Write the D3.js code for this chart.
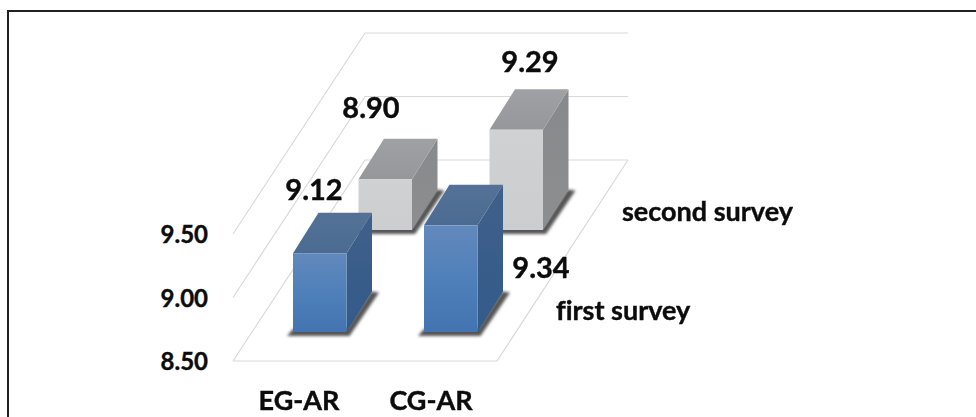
<!DOCTYPE html>
<html>
<head>
<meta charset="utf-8">
<script src="https://cdn.jsdelivr.net/npm/d3@7"></script>
<style>
  html, body { margin: 0; padding: 0; background: #fff; }
  svg { display: block; }
  text { font-family: Lato, "Open Sans", sans-serif; font-weight: 700; fill: #0c0c0c;
         stroke: #0c0c0c; stroke-width: 0.4; font-variant-ligatures: none; }
</style>
</head>
<body>
<svg id="chart" width="976" height="417"></svg>
<script>
// Survey scores by group, drawn as a 3-D column chart
const categories = ["EG-AR", "CG-AR"];
const seriesNames = ["first survey", "second survey"];
const firstSurvey = [9.12, 9.34];
const secondSurvey = [8.90, 9.29];
const valueTicks = [8.5, 9.0, 9.5];

const width = 976, height = 417;
const svg = d3.select("#chart");

// Rise above the floor for a value
const rise = d3.scaleLinear().domain([8.5, 9.5]).range([0, 127]);
// Left edge of a column's front face along the front row
const xCat = d3.scalePoint().domain(categories).range([293, 424]);
// Row placement on the floor: the back row sits up and to the right
const rowX = d3.scalePoint().domain(seriesNames).range([0, 65.5]);
const rowBase = d3.scalePoint().domain(seriesNames).range([332, 230]);

const barW = 53.5;
const capDx = 25.5, capDy = 40.5;

const defs = svg.append("defs");
function gradient(id, stops) {
  const g = defs.append("linearGradient").attr("id", id)
    .attr("x1", 0).attr("y1", 0).attr("x2", 0).attr("y2", 1);
  stops.forEach(([o, c]) => g.append("stop").attr("offset", o).attr("stop-color", c));
}
gradient("blueFront", [[0, "#6289bc"], [0.5, "#4f80b9"], [1, "#4274b1"]]);
gradient("blueSide", [[0, "#3f6089"], [1, "#325a8a"]]);
gradient("blueTop", [[0, "#537196"], [1, "#4d6b92"]]);
gradient("greyFront", [[0, "#d0d1d3"], [1, "#cccdcf"]]);
gradient("greySide", [[0, "#88898c"], [1, "#8d8e90"]]);
gradient("greyTop", [[0, "#a0a1a4"], [1, "#96979a"]]);
defs.append("filter").attr("id", "soft").attr("x", "-30%").attr("y", "-30%").attr("width", "160%").attr("height", "160%")
  .append("feGaussianBlur").attr("stdDeviation", 1.5);
defs.append("filter").attr("id", "tiny")
  .append("feGaussianBlur").attr("stdDeviation", 0.3);

// Frame: only the top and left edges are ruled
svg.append("path")
  .attr("d", `M8 ${height}V11H${width}`)
  .attr("fill", "none").attr("stroke", "#231f20").attr("stroke-width", 2);

// Walls and floor
const frontY = 361, backY = 160;
const front = { x: 233, xr: 497 };
const back = { x: 365, xr: 628 };
const grid = svg.append("g").attr("fill", "none").attr("stroke", "#d9d9d9").attr("stroke-width", 1.2);
valueTicks.forEach(v => {
  const r = rise(v);
  grid.append("path").attr("d", d3.line()([
    [front.x, frontY - r], [back.x, backY - r], [back.xr, backY - r]
  ]));
});
grid.append("path").attr("d", d3.line()([
  [front.x, frontY], [front.xr, frontY], [back.xr, backY]
]));

// Value axis labels
svg.append("g").selectAll("text").data(valueTicks).join("text")
  .attr("x", 208).attr("y", d => frontY + 9 - rise(d))
  .attr("text-anchor", "end").attr("font-size", 24)
  .text(d => d.toFixed(2));

// One column: shadow, front, side and top faces
function column(g, x, base, value, pal) {
  const h = rise(value);
  const y = base - h;
  g.append("path").attr("filter", "url(#soft)").attr("fill", "#555555")
    .attr("d", d3.line()([
      [x - 6, base + 4], [x + barW + 3, base + 4],
      [x + barW + capDx + 7, base - capDy + 1], [x + barW + capDx - 1, base - capDy],
      [x + barW, base - 3], [x, base - 3]
    ]));
  g.append("path").attr("fill", `url(#${pal}Side)`)
    .attr("d", d3.line()([
      [x + barW, y], [x + barW + capDx, y - capDy],
      [x + barW + capDx, base - capDy], [x + barW, base]
    ]));
  g.append("path").attr("fill", `url(#${pal}Top)`)
    .attr("d", d3.line()([
      [x, y], [x + capDx, y - capDy], [x + barW + capDx, y - capDy], [x + barW, y]
    ]));
  g.append("rect").attr("fill", `url(#${pal}Front)`)
    .attr("x", x).attr("y", y).attr("width", barW).attr("height", h);
}

// Rows are painted back to front so nearer columns overlap
const rows = [
  { name: seriesNames[1], values: secondSurvey, pal: "grey" },
  { name: seriesNames[0], values: firstSurvey, pal: "blue" }
];
const marks = svg.append("g").attr("filter", "url(#tiny)");
rows.forEach(row => {
  const rowG = marks.append("g");
  row.values.forEach((v, i) => {
    column(rowG, xCat(categories[i]) + rowX(row.name), rowBase(row.name), v, row.pal);
  });
});

// Value labels beside each column
const valueLabels = [
  { v: firstSurvey[0], x: 314, y: 200 },
  { v: secondSurvey[0], x: 371, y: 118 },
  { v: secondSurvey[1], x: 530, y: 72 },
  { v: firstSurvey[1], x: 541, y: 278 }
];
svg.append("g").selectAll("text").data(valueLabels).join("text")
  .attr("x", d => d.x).attr("y", d => d.y)
  .attr("text-anchor", "middle").attr("font-size", 29)
  .text(d => d.v.toFixed(2));

// Category labels under the floor
svg.append("g").selectAll("text").data(categories).join("text")
  .attr("x", (d, i) => [299, 431][i]).attr("y", 410)
  .attr("text-anchor", "middle").attr("font-size", 27)
  .text(d => d);

// Series labels along the depth axis
svg.append("g").selectAll("text").data(seriesNames).join("text")
  .attr("x", (d, i) => [556, 622][i]).attr("y", (d, i) => [320, 221][i])
  .attr("font-size", 27)
  .text(d => d);
</script>
</body>
</html>
